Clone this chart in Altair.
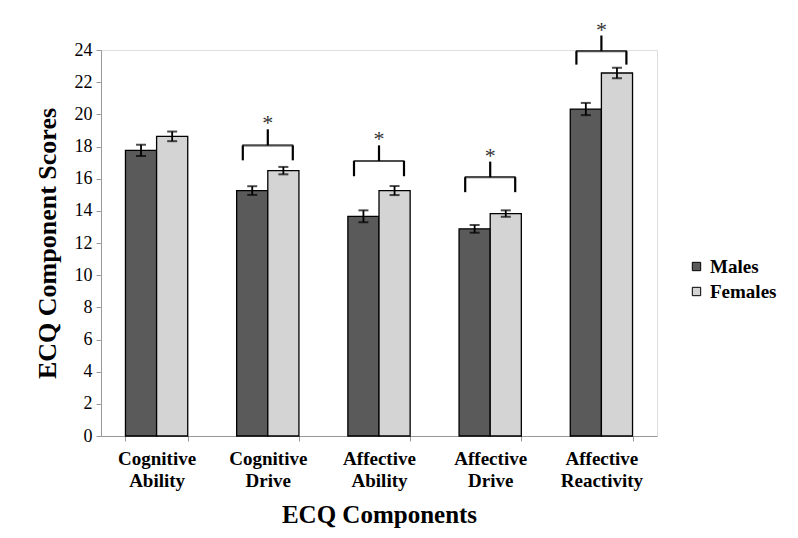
import altair as alt
import pandas as pd

categories = ["Cognitive Ability", "Cognitive Drive", "Affective Ability", "Affective Drive", "Affective Reactivity"]
groups = ["Males", "Females"]
males = [17.76, 15.26, 13.66, 12.88, 20.33]
females = [18.63, 16.50, 15.26, 13.83, 22.57]
males_err = [0.35, 0.27, 0.37, 0.24, 0.38]
females_err = [0.30, 0.23, 0.28, 0.20, 0.33]

sig_categories = ["Cognitive Drive", "Affective Ability", "Affective Drive", "Affective Reactivity"]
bracket_y = [18.07, 17.10, 16.09, 23.93]
leg_y = [17.14, 16.15, 15.16, 23.09]
stem_y = [19.07, 18.07, 17.06, 24.90]
stars = ["*", "*", "*", "*"]

rows = []
for i, c in enumerate(categories):
    rows.append({"category": c, "group": "Males", "value": males[i], "err": males_err[i]})
    rows.append({"category": c, "group": "Females", "value": females[i], "err": females_err[i]})
df = pd.DataFrame(rows)
df["lo"] = df["value"] - df["err"]
df["hi"] = df["value"] + df["err"]

sig = pd.DataFrame({"category": sig_categories, "bar": bracket_y, "leg": leg_y,
                    "stem": stem_y, "star": stars})

FONT = "Liberation Serif"

xscale = alt.Scale(domain=categories, paddingInner=0.44, paddingOuter=0.22)
x_axis = alt.Axis(title="ECQ Components", labelAngle=0,
                  labelExpr="split(datum.label, ' ')",
                  labelFont=FONT, labelFontSize=19, labelFontWeight="bold",
                  labelColor="black", labelLineHeight=22, labelPadding=8,
                  tickBand="extent", tickSize=5, tickColor="#999999",
                  domainColor="#999999", titleFont=FONT, titleFontSize=25,
                  titleFontWeight="bold", titleColor="black", titlePadding=12)
y_scale = alt.Scale(domain=[0, 24], nice=False)
y_axis = alt.Axis(title="ECQ Component Scores", values=list(range(0, 25, 2)),
                  labelFont=FONT, labelFontSize=18, labelColor="black",
                  tickSize=5, tickColor="#999999", domainColor="#999999",
                  labelPadding=4, grid=False, labelOverlap=False,
                  titleFont=FONT, titleFontSize=26, titleFontWeight="bold",
                  titleColor="black", titlePadding=14)

xoff = alt.XOffset("group:N", sort=groups, scale=alt.Scale(paddingInner=0, paddingOuter=0))
bx = alt.X("category:N", sort=categories, scale=xscale, axis=x_axis)

bars = alt.Chart(df).mark_bar(stroke="black", strokeWidth=1.3).encode(
    x=bx,
    xOffset=xoff,
    y=alt.Y("value:Q", scale=y_scale, axis=y_axis),
    fill=alt.Fill("group:N", sort=groups,
                  scale=alt.Scale(domain=groups, range=["#5a5a5a", "#d4d4d4"]),
                  legend=alt.Legend(title=None, orient="none", legendX=586, legendY=207,
                                    labelFont=FONT, labelFontSize=19, labelFontWeight="bold",
                                    labelColor="black", symbolType="square", symbolSize=70,
                                    symbolStrokeColor="black", symbolStrokeWidth=1,
                                    rowPadding=5, labelOffset=4, padding=0)),
)

err = alt.Chart(df).mark_rule(color="black", strokeWidth=1.8).encode(
    x=bx, xOffset=xoff,
    y=alt.Y("lo:Q", scale=y_scale, axis=y_axis),
    y2="hi:Q",
)
cap_lo = alt.Chart(df).mark_tick(color="black", size=10, thickness=2).encode(
    x=bx, xOffset=xoff,
    y=alt.Y("lo:Q", scale=y_scale, axis=y_axis),
)
cap_hi = alt.Chart(df).mark_tick(color="black", size=10, thickness=2).encode(
    x=bx, xOffset=xoff,
    y=alt.Y("hi:Q", scale=y_scale, axis=y_axis),
)

br_h = alt.Chart(sig).mark_tick(color="black", size=51, thickness=2.2, clip=False).encode(
    x=bx, y=alt.Y("bar:Q", scale=y_scale, axis=y_axis))
br_l = alt.Chart(sig).mark_rule(color="black", strokeWidth=2.2, xOffset=-25, clip=False).encode(
    x=bx, y=alt.Y("leg:Q", scale=y_scale, axis=y_axis), y2="bar:Q")
br_r = alt.Chart(sig).mark_rule(color="black", strokeWidth=2.2, xOffset=25, clip=False).encode(
    x=bx, y=alt.Y("leg:Q", scale=y_scale, axis=y_axis), y2="bar:Q")
br_s = alt.Chart(sig).mark_rule(color="black", strokeWidth=2.2, clip=False).encode(
    x=bx, y=alt.Y("bar:Q", scale=y_scale, axis=y_axis), y2="stem:Q")
star = alt.Chart(sig).mark_text(font=FONT, fontSize=22, color="#333333", baseline="alphabetic",
                                dy=1, clip=False).encode(
    x=bx, y=alt.Y("stem:Q", scale=y_scale, axis=y_axis), text="star:N")

chart = alt.layer(bars, err, cap_lo, cap_hi, br_h, br_l, br_r, br_s, star).properties(
    width=556, height=386,
    autosize=alt.AutoSizeParams(type="none"),
    padding={"left": 93, "top": 42, "right": 133, "bottom": 94},
).configure_view(stroke=None).configure(background="white")

chart.save("out.html", embed_options={"renderer": "svg", "actions": False})
